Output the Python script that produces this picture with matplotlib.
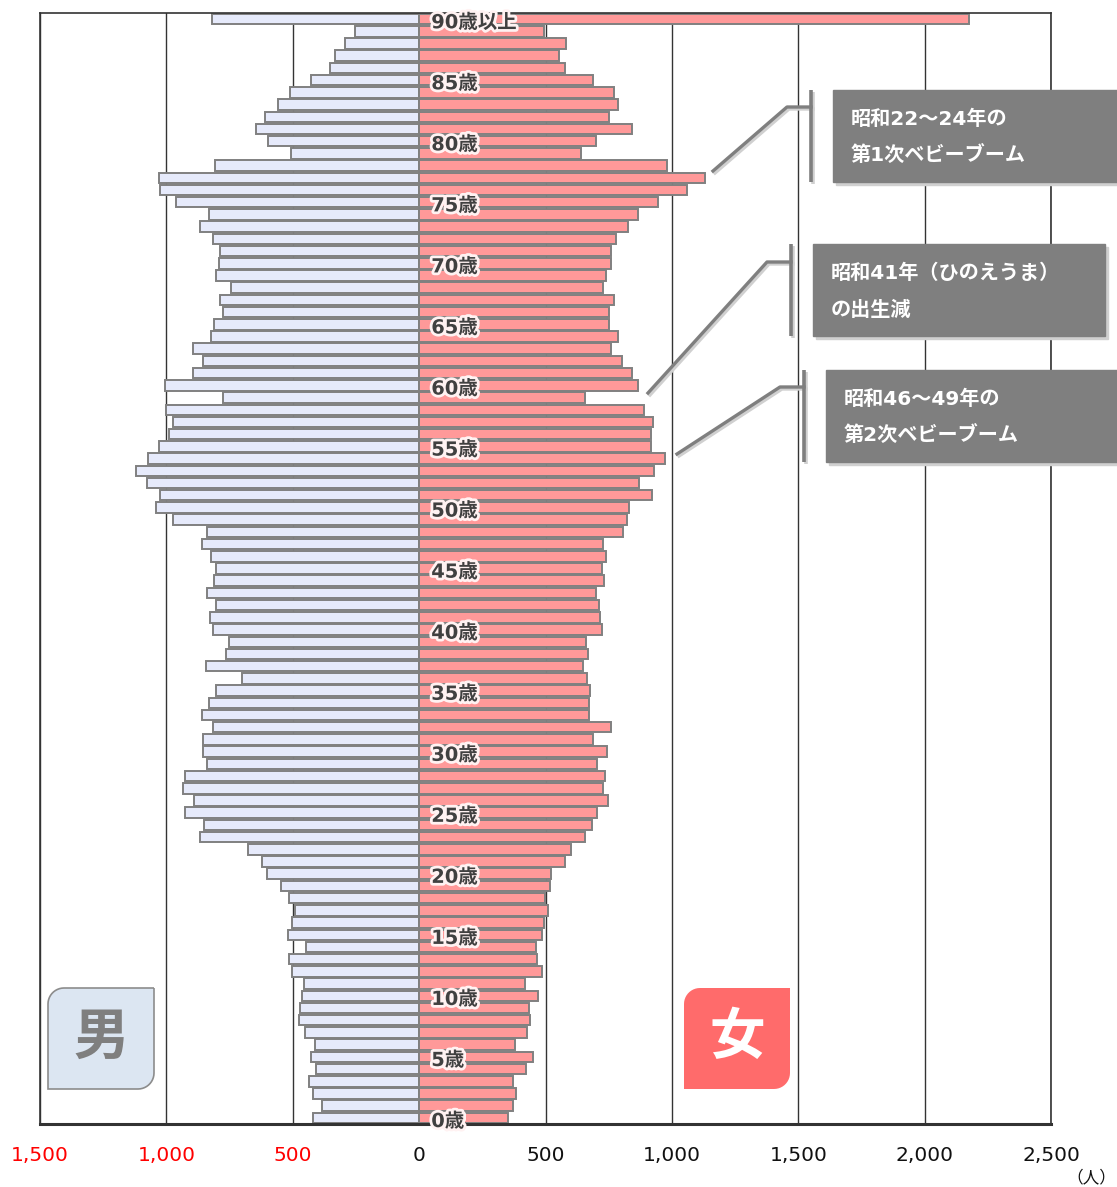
import numpy as np
import matplotlib
matplotlib.use("Agg")
import matplotlib.pyplot as plt
import matplotlib.patheffects as pe
from matplotlib.patches import Rectangle, PathPatch
from matplotlib.path import Path

plt.rcParams['font.family'] = ['DejaVu Sans', 'Noto Sans CJK JP']

# 年齢別人口 (0歳 .. 90歳以上)
ages = np.arange(0, 91)
male = [420, 383, 421, 436, 408, 428, 410, 450, 474, 471,
        465, 455, 501, 513, 446, 519, 501, 492, 513, 545,
        602, 621, 677, 865, 852, 926, 892, 936, 926, 841,
        854, 855, 816, 861, 832, 802, 700, 844, 763, 752,
        814, 827, 803, 841, 813, 804, 825, 858, 841, 973,
        1043, 1026, 1077, 1121, 1074, 1029, 988, 973, 1002, 775,
        1005, 895, 857, 895, 825, 813, 775, 789, 744, 804,
        792, 789, 814, 866, 832, 960, 1026, 1030, 809, 505,
        598, 645, 609, 557, 512, 428, 352, 332, 293, 253,
        820]
female = [350, 372, 385, 372, 422, 451, 380, 425, 438, 434,
          469, 418, 486, 467, 462, 487, 493, 509, 499, 517,
          520, 579, 601, 655, 682, 702, 749, 726, 734, 705,
          744, 688, 761, 671, 671, 677, 665, 649, 670, 662,
          722, 716, 712, 700, 732, 722, 740, 726, 808, 821,
          831, 920, 869, 930, 971, 917, 917, 924, 889, 655,
          867, 842, 802, 759, 785, 750, 753, 771, 726, 740,
          761, 760, 778, 827, 865, 944, 1061, 1132, 981, 640,
          700, 842, 753, 788, 770, 688, 576, 552, 583, 496,
          2175]
xticks = [-1500, -1000, -500, 0, 500, 1000, 1500, 2000, 2500]
label_ages = list(range(0, 91, 5))

notes = [("昭和22～24年の", "第1次ベビーブーム"),
         ("昭和41年（ひのえうま）", "の出生減"),
         ("昭和46～49年の", "第2次ベビーブーム")]

W, H = 1117, 1187
fig = plt.figure(figsize=(W / 100, H / 100), dpi=100)
ax = fig.add_axes([40 / W, 1 - 1124 / H, (1051 - 40) / W, (1124 - 13) / H])

for x in xticks:
    ax.axvline(x, color='#333333', lw=1.0, zorder=0)

edge = '#808080'
ax.barh(ages, [-m for m in male], height=0.86, color='#E6EAFB',
        edgecolor=edge, linewidth=1.4, zorder=2)
ax.barh(ages, female, height=0.86, color='#FF9999',
        edgecolor=edge, linewidth=1.4, zorder=2)

ax.set_xlim(-1500, 2500)
ax.set_ylim(-0.5, 90.5)
ax.set_yticks([])
ax.set_xticks(xticks)
ax.set_xticklabels([f"{abs(v):,}" for v in xticks], fontsize=14.5)
for lab, v in zip(ax.get_xticklabels(), xticks):
    lab.set_color('#FF0000' if v < 0 else '#111111')
ax.tick_params(axis='x', length=0, pad=16)
for side in ['left', 'right', 'top']:
    ax.spines[side].set_color('#333333')
    ax.spines[side].set_linewidth(1.2)
ax.spines['bottom'].set_color('#333333')
ax.spines['bottom'].set_linewidth(2.2)

glow = [pe.withStroke(linewidth=4, foreground='#FFF2F2')]
for a in label_ages:
    txt = "90歳以上" if a == 90 else f"{a}歳"
    ax.text(48, a - 0.3, txt, fontsize=14, fontweight='bold', color='#404040',
            ha='left', va='center', zorder=5, path_effects=glow)

# overlay in pixel coordinates for annotations
ov = fig.add_axes([0, 0, 1, 1], zorder=10)
ov.set_xlim(0, W)
ov.set_ylim(H, 0)
ov.axis('off')
ov.patch.set_alpha(0)

ov.text(1116, 1178, "（人）", fontsize=12, ha='right', va='center',
        color='#111111', family=['Noto Sans CJK JP'])

boxes = [(833, 90, 1117, 182, 811, 107, 787, 713, 171),
         (813, 244, 1105, 336, 791, 262, 767, 648, 393),
         (826, 370, 1117, 462, 804, 387, 780, 677, 454)]
shadow = '#D0D0D0'
for (x0, y0, x1, y1, bx, hy, hx, tx, ty), (l1, l2) in zip(boxes, notes):
    ov.add_patch(Rectangle((x0 + 3, y0 + 3), x1 - x0, y1 - y0,
                           color=shadow, zorder=1))
    ov.add_patch(Rectangle((x0, y0), x1 - x0, y1 - y0,
                           color='#7F7F7F', zorder=2))
    for dx, c, z in [(2, shadow, 1), (0, '#7F7F7F', 3)]:
        ov.plot([bx + dx, bx + dx], [y0 + dx, y1 + dx], color=c, lw=2.6,
                zorder=z, solid_capstyle='butt')
        ov.plot([tx + dx, hx + dx, bx + dx], [ty + dx, hy + dx, hy + dx],
                color=c, lw=2.4, zorder=z)
    ov.text(x0 + 18, y0 + 29, l1, fontsize=14.5, fontweight='bold',
            color='white', ha='left', va='center', zorder=4)
    ov.text(x0 + 18, y0 + 66, l2, fontsize=14.5, fontweight='bold',
            color='white', ha='left', va='center', zorder=4)


def tag_path(x0, y0, x1, y1, r):
    # rounded top-left and bottom-right corners
    t = np.linspace(0, np.pi / 2, 12)
    pts = [(x1, y0), (x1, y1 - r)]
    pts += [(x1 - r + r * np.cos(a), y1 - r + r * np.sin(a)) for a in t]
    pts += [(x0, y1), (x0, y0 + r)]
    pts += [(x0 + r - r * np.cos(a), y0 + r - r * np.sin(a)) for a in t]
    pts.append((x1, y0))
    return Path(pts)


ov.add_patch(PathPatch(tag_path(48, 988, 154, 1089, 16), facecolor='#DCE6F2',
                       edgecolor='#8C8C8C', lw=1.2, zorder=2))
ov.text(101, 1038, "男", fontsize=40, fontweight='bold', color='#7F7F7F',
        ha='center', va='center', family=['Noto Sans CJK JP'], zorder=3)
ov.add_patch(PathPatch(tag_path(684, 988, 790, 1089, 16), facecolor='#FF6B6B',
                       edgecolor='none', zorder=2))
ov.text(737, 1038, "女", fontsize=40, fontweight='bold', color='white',
        ha='center', va='center', family=['Noto Sans CJK JP'], zorder=3)

fig.savefig("out.png", dpi=100)
